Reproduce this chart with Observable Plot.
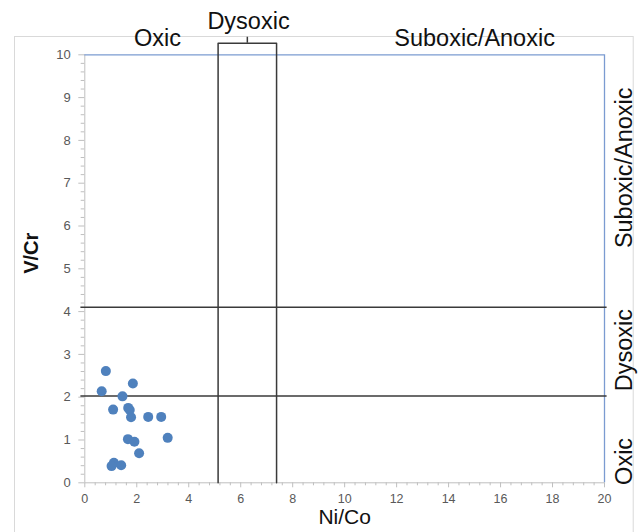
<!DOCTYPE html>
<html><head><meta charset="utf-8">
<script src="https://cdn.jsdelivr.net/npm/d3@7"></script>
<script src="https://cdn.jsdelivr.net/npm/@observablehq/plot@0.6"></script>
<style>body{margin:0;background:#fff}</style>
</head><body><div id="chart"></div>
<script>
const niCo = [0.81, 0.65, 1.85, 1.45, 1.09, 1.67, 1.73, 1.78, 2.44, 2.94, 3.19, 1.66, 1.91, 2.09, 1.12, 1.03, 1.40];
const vCr  = [2.61, 2.14, 2.32, 2.02, 1.71, 1.75, 1.70, 1.53, 1.54, 1.54, 1.05, 1.02, 0.96, 0.69, 0.47, 0.39, 0.41];
const xTicks = [0, 2, 4, 6, 8, 10, 12, 14, 16, 18, 20];
const yTicks = [0, 1, 2, 3, 4, 5, 6, 7, 8, 9, 10];
const niCoThresholds = [5.13, 7.38];
const vCrThresholds = [2.03, 4.1];
const bracketTop = 10.27;
const bracketTip = 10.41;
const topLabels = ["Oxic", "Dysoxic", "Suboxic/Anoxic"];
const topLabelX = [2.8, 6.3, 15.0];
const topLabelY = [10.38, 10.78, 10.38];
const sideLabels = ["Oxic", "Dysoxic", "Suboxic/Anoxic"];
const sideLabelY = [0.5, 3.1, 7.36];
const sideLabelX = 20.77;

const points = niCo.map((x, i) => ({x, y: vCr[i]}));
const xMinor = d3.range(0, 20.001, 0.4).filter(v => Math.abs(v / 2 - Math.round(v / 2)) > 1e-6);
const yMinor = d3.range(0, 10.001, 0.2).filter(v => Math.abs(v - Math.round(v)) > 1e-6);
const midX = (niCoThresholds[0] + niCoThresholds[1]) / 2;
const bracket = [
  {x: niCoThresholds[0], y: 0}, {x: niCoThresholds[0], y: bracketTop},
  {x: niCoThresholds[1], y: bracketTop}, {x: niCoThresholds[1], y: 0}
];
const font = "'Liberation Sans', Arial, sans-serif";
const tickColor = "#bfbfbf";
const labelColor = "#595959";

const chart = Plot.plot({
  width: 644,
  height: 532,
  marginLeft: 84.3,
  marginRight: 40,
  marginTop: 54.3,
  marginBottom: 49.7,
  style: {fontFamily: font, background: "#fff", overflow: "visible"},
  x: {domain: [0, 20]},
  y: {domain: [0, 10]},
  marks: [
    Plot.frame({stroke: "#d9d9d9", insetLeft: -70.3, insetTop: -18.3, insetRight: -28.7, insetBottom: -70}),
    Plot.axisX(xMinor, {tickSize: 3, text: null, stroke: tickColor, label: null}),
    Plot.axisY(yMinor, {tickSize: 3.6, text: null, stroke: tickColor, label: null}),
    Plot.axisX(xTicks, {tickSize: 5, text: null, stroke: tickColor, label: null}),
    Plot.axisY(yTicks, {tickSize: 6, text: null, stroke: tickColor, label: null}),
    Plot.axisX(xTicks, {tickSize: 0, tickPadding: 11, fontSize: 12.5, fill: labelColor, label: null}),
    Plot.axisY(yTicks, {tickSize: 0, tickPadding: 14, fontSize: 13, fill: labelColor, label: null}),
    Plot.ruleX([0], {stroke: tickColor}),
    Plot.ruleY([0], {stroke: tickColor}),
    Plot.ruleY([10], {stroke: "#7b9bd1", strokeWidth: 1.3}),
    Plot.ruleX([20], {stroke: "#7b9bd1", strokeWidth: 1.3}),
    Plot.ruleY(vCrThresholds, {x1: -0.15, x2: 20.1, stroke: "#3a3a3a", strokeWidth: 1.5}),
    Plot.line(bracket, {x: "x", y: "y", stroke: "#3a3a3a", strokeWidth: 1.5, strokeLinejoin: "round"}),
    Plot.ruleX([midX], {y1: bracketTop, y2: bracketTip, stroke: "#3a3a3a", strokeWidth: 1.5}),
    Plot.dot(points, {x: "x", y: "y", r: 5, fill: "#4f81bd", stroke: "none"}),
    Plot.text(topLabels, {x: (d, i) => topLabelX[i], y: (d, i) => topLabelY[i], text: d => d, fontSize: 23.5, fill: "#111"}),
    Plot.text(sideLabels, {x: () => sideLabelX, y: (d, i) => sideLabelY[i], text: d => d, rotate: -90, fontSize: 23.5, fill: "#111"}),
    Plot.text(["V/Cr"], {frameAnchor: "left", dx: -53, dy: 5, rotate: -90, text: d => d, fontSize: 20, fontWeight: "bold", fill: "#111"}),
    Plot.text(["Ni/Co"], {frameAnchor: "bottom", dy: 41.5, text: d => d, fontSize: 21, fill: "#111"})
  ]
});
document.getElementById("chart").append(chart);
</script>
</body></html>
